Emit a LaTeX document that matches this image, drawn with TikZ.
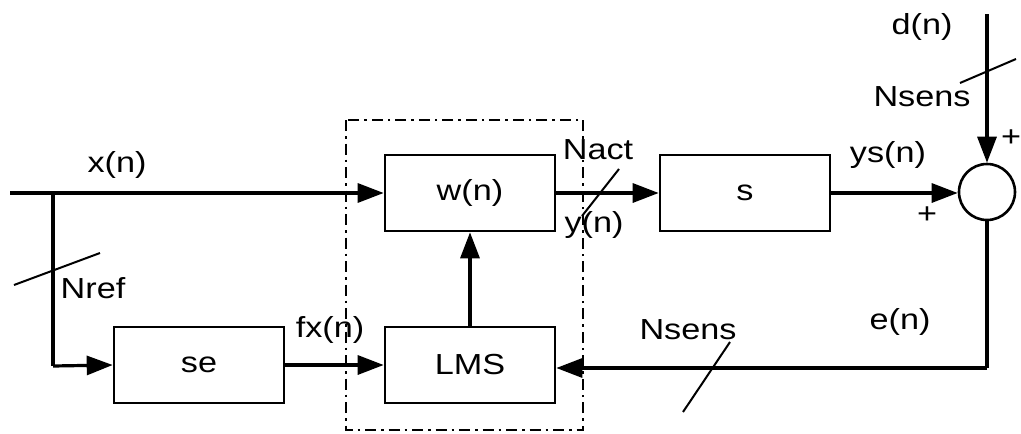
\documentclass[tikz,border=0pt]{standalone}
\usepackage{fontspec}
\setmainfont{Liberation Sans}[FakeStretch=1.18]
\usetikzlibrary{arrows.meta}
\begin{document}
\begin{tikzpicture}[x=1pt,y=-1pt,
  blk/.style={draw,line width=2.6pt,minimum width=170pt,minimum height=76pt,inner sep=0pt,font=\fontsize{29}{30}\selectfont},
  lbl/.style={inner sep=0pt,font=\fontsize{29}{30}\selectfont},
  conn/.style={line width=3.2pt,-{Triangle[length=26pt,width=19pt]}},
  wire/.style={line width=3.2pt},
  slash/.style={line width=2pt}]
\useasboundingbox (0,0) rectangle (1021,434);
% blocks
\node[blk] (w) at (470,193) {w(n)};
\node[blk] (lms) at (470,365) {LMS};
\node[blk] (se) at (199,365) {se};
\node[blk] (s) at (745,193) {s};
\node[draw,circle,line width=2.6pt,minimum size=56pt,inner sep=0pt] (sum) at (987,192) {};
% dash-dot frame
\draw[line width=2.6pt,dash pattern=on 11pt off 5pt on 2.5pt off 5pt] (346,120) rectangle (583,430);
% coordinates
\coordinate (xin) at (10,193);
\coordinate (br) at (53,193);
\coordinate (brd) at (53,366);
\coordinate (din) at (987,14);
\coordinate (fbc) at (987,368);
% connectors
\draw[conn] (xin) -- (w.west);
\draw[wire] (br) -- (brd);
\draw[conn] (brd) -- (se.west);
\draw[conn] (se.east) -- (lms.west);
\draw[conn] (lms.north) -- (w.south);
\draw[conn] (w.east) -- (s.west);
\draw[conn] (s.east) -- (s.east -| sum.west);
\draw[conn] (din) -- (sum.north);
\draw[wire] (sum.south) -- (fbc);
\draw[conn] (fbc) -- (lms.east |- fbc);
% slashes
\coordinate (sr1) at (14,285); \coordinate (sr2) at (100,253);
\draw[slash] (sr1) -- (sr2);
\coordinate (sa1) at (582,216); \coordinate (sa2) at (619,169);
\draw[slash] (sa1) -- (sa2);
\coordinate (sd1) at (960,83); \coordinate (sd2) at (1016,59);
\draw[slash] (sd1) -- (sd2);
\coordinate (sb1) at (683,412); \coordinate (sb2) at (730,342);
\draw[slash] (sb1) -- (sb2);
% labels
\node[lbl] (lx) at (117,165) {x(n)};
\node[lbl] (lnref) at (93,288) {Nref};
\node[lbl] (lfx) at (330,330) {fx(n)};
\node[lbl] (lnact) at (598,150) {Nact};
\node[lbl] (ly) at (594,225) {y(n)};
\node[lbl] (lys) at (888,155) {ys(n)};
\node[lbl] (ld) at (922,27) {d(n)};
\node[lbl] (lns1) at (922,97) {Nsens};
\node[lbl] (lns2) at (688,330) {Nsens};
\node[lbl] (le) at (900,322) {e(n)};
\node[lbl] (lp1) at (1011,138) {+};
\node[lbl] (lp2) at (927,215) {+};
\end{tikzpicture}
\end{document}
